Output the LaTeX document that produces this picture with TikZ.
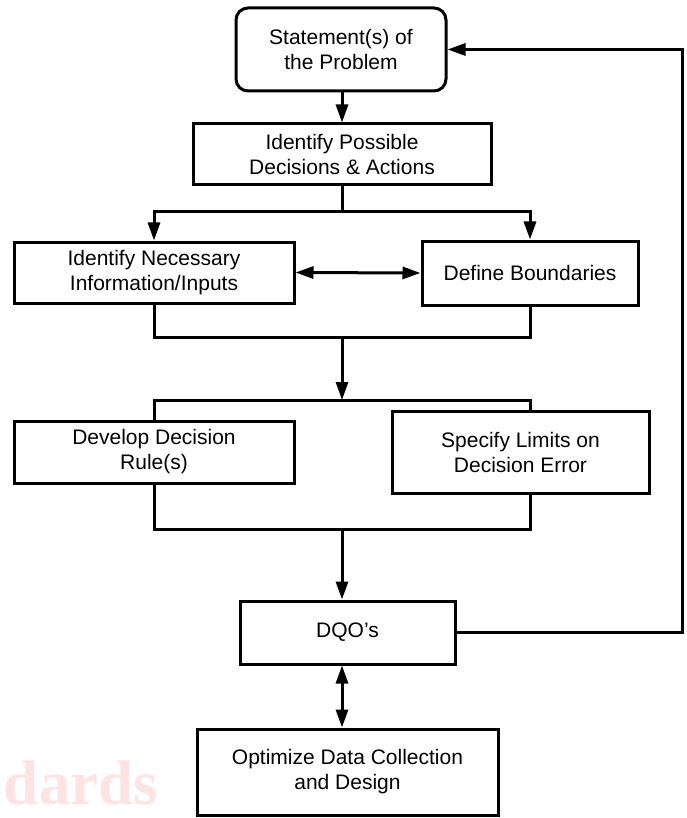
\documentclass[tikz,border=0pt]{standalone}
\usepackage{fontspec}
\setmainfont{Liberation Sans}
\newfontfamily\wmfont{Liberation Serif}
\usetikzlibrary{arrows.meta}
\begin{document}
\begin{tikzpicture}[x=1pt,y=-1pt,
  box/.style={draw,line width=3pt,align=center,inner sep=0pt,font=\fontsize{21}{25}\selectfont},
  link/.style={line width=3pt},
  arr/.style={line width=3pt,-{Triangle[length=18pt,width=12pt]}},
  darr/.style={line width=3pt,{Triangle[length=18pt,width=12pt]}-{Triangle[length=18pt,width=12pt]}}]
\useasboundingbox (0,0) rectangle (686,818);
\node[box,rounded corners=12pt,minimum width=210pt,minimum height=83pt] (top) at (341,49.5) {Statement(s) of\\the Problem};
\node[box,minimum width=298pt,minimum height=61pt] (b2) at (342,154.5) {Identify Possible\\Decisions \& Actions};
\node[box,minimum width=280pt,minimum height=61pt] (b3) at (154,272.5) {Identify Necessary\\Information/Inputs};
\node[box,minimum width=216pt,minimum height=64pt] (b4) at (530,273) {Define Boundaries};
\node[box,minimum width=280pt,minimum height=62pt] (b5) at (154,452) {Develop Decision\\Rule(s)};
\node[box,minimum width=257pt,minimum height=82pt] (b6) at (520.5,452) {Specify Limits on\\Decision Error};
\node[box,minimum width=215pt,minimum height=63pt] (dqo) at (347.5,632.5) {DQO’s};
\node[box,minimum width=301pt,minimum height=86pt] (b7) at (347.5,772) {Optimize Data Collection\\and Design};
\node[text=pink!45!white,font=\wmfont\bfseries\fontsize{63}{63}\selectfont,inner sep=0pt] (wm) at (81,783) {dards};
\coordinate (j1) at (342,212);
\coordinate (j2) at (342,337);
\coordinate (j3) at (342,400);
\coordinate (j4) at (342,529);
\coordinate (fb) at (682,49.5);
\draw[arr] (top.south -| b2.north) -- (b2.north);
\draw[link] (b2.south) -- (j1);
\draw[arr] (j1) -| (b3.north);
\draw[arr] (j1) -| (b4.north);
\draw[darr] (b3.east) -- (b4.west);
\draw[link] (b3.south) |- (j2) -| (b4.south);
\draw[arr] (j2) -- (j3);
\draw[link] (b5.north) |- (j3) -- (j3 -| b4.south) -- (b4.south |- b6.north);
\draw[link] (b5.south) |- (j4) -- (j4 -| b4.south) -- (b4.south |- b6.south);
\draw[arr] (j4) -- (j4 |- dqo.north);
\draw[arr] (dqo.east) -| (fb) -- (top.east);
\draw[darr] (dqo.south -| j4) -- (b7.north -| j4);
\end{tikzpicture}
\end{document}
